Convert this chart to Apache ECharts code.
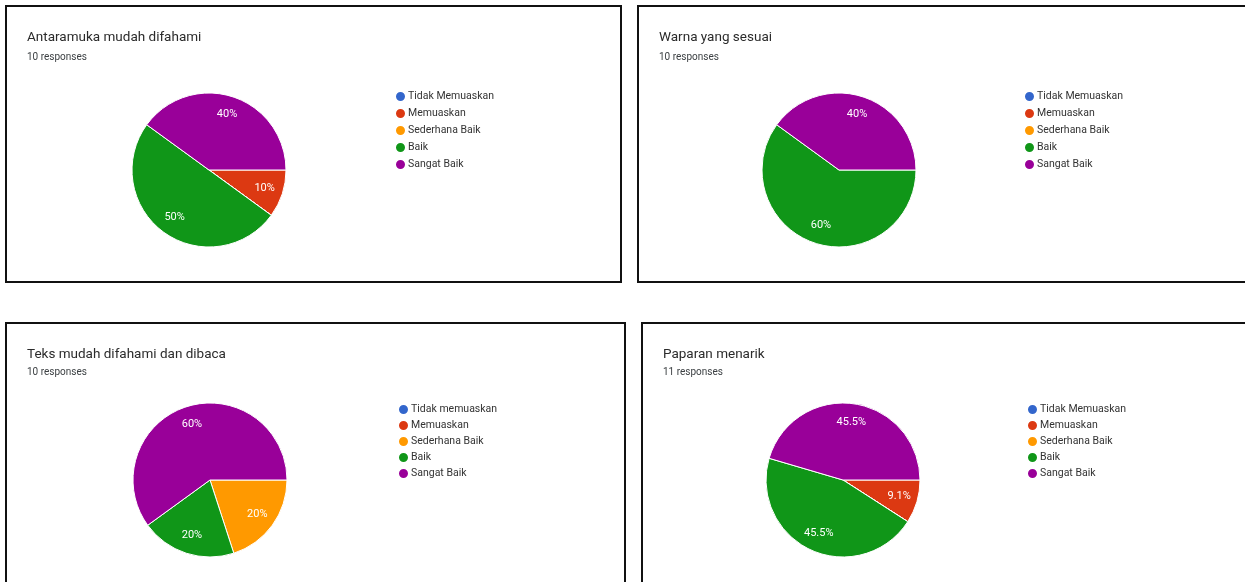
<!DOCTYPE html>
<html>
<head>
<meta charset="utf-8">
<script src="https://cdn.jsdelivr.net/npm/echarts@6/dist/echarts.min.js"></script>
<style>
  html, body { margin: 0; padding: 0; background: #fff; overflow: hidden; }
  body { width: 1245px; height: 582px; position: relative; }
  .panel { position: absolute; border: 2px solid #111; background: #fff; }
  .panel > div { width: 100%; height: 100%; }
</style>
</head>
<body>
<div class="panel" style="left:5px;top:5px;width:613px;height:274px"><div id="c1"></div></div>
<div class="panel" style="left:637px;top:5px;width:620px;height:274px"><div id="c2"></div></div>
<div class="panel" style="left:5px;top:322px;width:617px;height:300px"><div id="c3"></div></div>
<div class="panel" style="left:641px;top:322px;width:620px;height:300px"><div id="c4"></div></div>
<script>
const titles = ['Antaramuka mudah difahami', 'Warna yang sesuai', 'Teks mudah difahami dan dibaca', 'Paparan menarik'];
const responses = ['10 responses', '10 responses', '10 responses', '11 responses'];

const categoriesA = ['Tidak Memuaskan', 'Memuaskan', 'Sederhana Baik', 'Baik', 'Sangat Baik'];
const categoriesB = ['Tidak memuaskan', 'Memuaskan', 'Sederhana Baik', 'Baik', 'Sangat Baik'];

const values1 = [0, 1, 0, 5, 4];
const values2 = [0, 0, 0, 6, 4];
const values3 = [0, 0, 2, 2, 6];
const values4 = [0, 1, 0, 5, 5];

const colors = ['#3366CC', '#DC3912', '#FF9900', '#109618', '#990099'];

const panels = [
  { id: 'c1', cats: categoriesA, vals: values1, center: [202, 163], legendLeft: 387, legendTop: 83, gap: 4, titleTop: 24, subTop: 45 },
  { id: 'c2', cats: categoriesA, vals: values2, center: [200, 163], legendLeft: 384, legendTop: 83, gap: 4, titleTop: 24, subTop: 45 },
  { id: 'c3', cats: categoriesB, vals: values3, center: [203, 156], legendLeft: 390, legendTop: 79, gap: 3, titleTop: 24, subTop: 43 },
  { id: 'c4', cats: categoriesA, vals: values4, center: [200, 156], legendLeft: 383, legendTop: 79, gap: 3, titleTop: 24, subTop: 43 },
];

const charts = [];

function fmtPct(v, total) {
  if (!v) return '';
  const p = Math.round(v / total * 1000) / 10;
  return p + '%';
}

panels.forEach((p, i) => {
  const chart = echarts.init(document.getElementById(p.id));
  charts.push(chart);
  const total = p.vals.reduce((s, v) => s + v, 0);
  const data = p.cats.map((c, k) => ({ name: c, value: p.vals[k] }));

  chart.setOption({
    animation: false,
    color: colors,
    title: [
      { text: titles[i], left: 20, top: p.titleTop, padding: 0,
        textStyle: { fontFamily: 'Roboto', fontSize: 13.5, fontWeight: 'normal', color: '#2b2b2b' } },
      { text: responses[i], left: 20, top: p.subTop, padding: 0,
        textStyle: { fontFamily: 'Roboto', fontSize: 10, fontWeight: 'normal', color: '#3c4043' } },
    ],
    legend: {
      orient: 'vertical',
      left: p.legendLeft,
      top: p.legendTop,
      padding: 0,
      icon: 'circle',
      itemWidth: 11,
      itemHeight: 11,
      itemGap: p.gap,
      data: p.cats,
      textStyle: { fontFamily: 'Roboto', fontSize: 10.5, color: '#333', padding: [0, 0, 0, -3] },
    },
    series: [
      {
        type: 'pie',
        center: p.center,
        radius: [0, 77],
        startAngle: 0,
        clockwise: true,
        silent: true,
        itemStyle: { borderColor: '#fff', borderWidth: 1 },
        label: { show: false },
        labelLine: { show: false },
        data,
      },
      {
        type: 'pie',
        center: p.center,
        radius: [34, 77],
        startAngle: 0,
        clockwise: true,
        silent: true,
        itemStyle: { color: 'rgba(0,0,0,0)', borderWidth: 0 },
        label: {
          show: true,
          position: 'inside',
          fontFamily: 'Roboto',
          fontSize: 11,
          color: '#fff',
          formatter: (prm) => fmtPct(prm.value, total),
        },
        labelLine: { show: false },
        data,
      },
    ],
  });
});

window.addEventListener('resize', () => {
  charts.forEach(c => c.resize());
});
</script>
</body>
</html>
